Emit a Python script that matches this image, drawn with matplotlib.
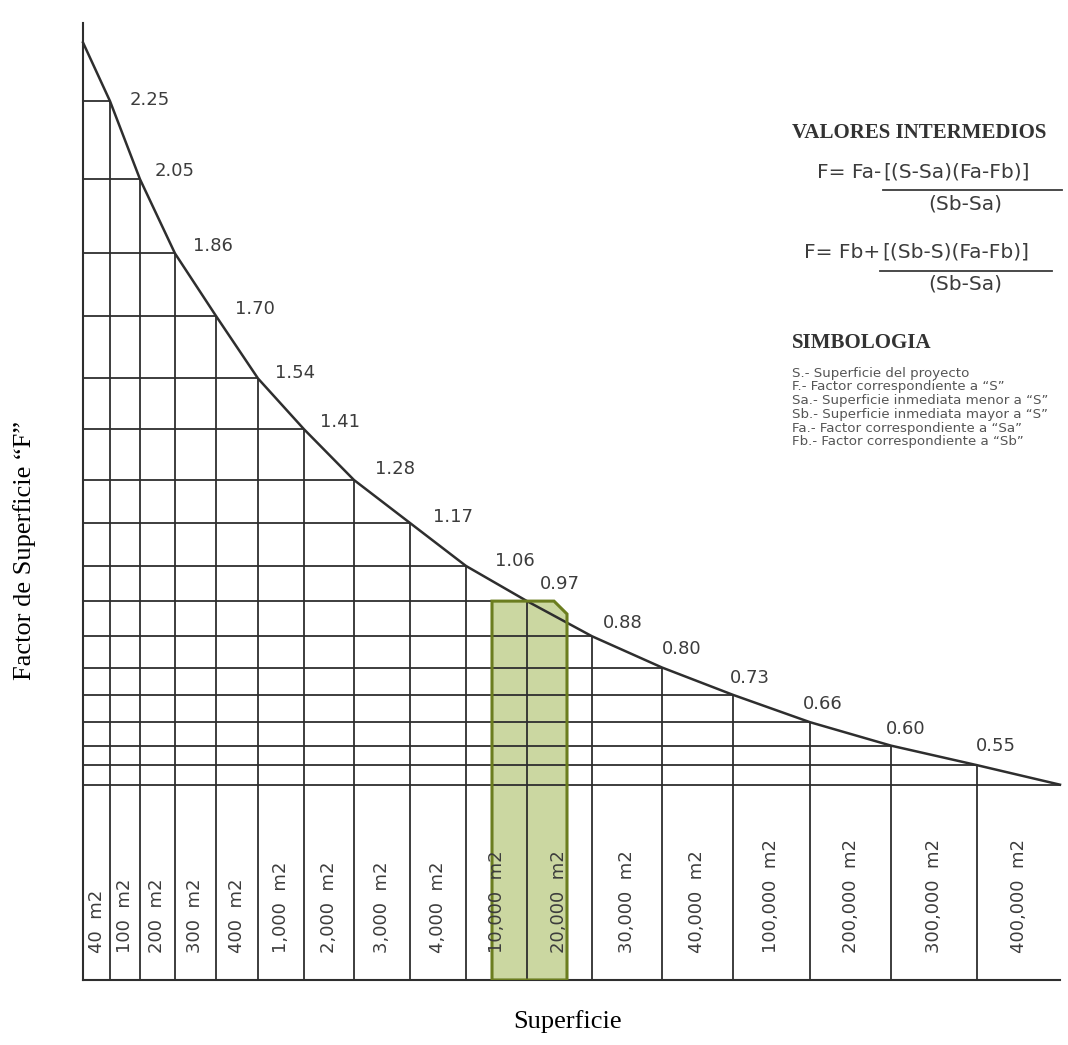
import numpy as np
import matplotlib.pyplot as plt
from matplotlib.patches import Polygon

# column labels (superficie) and the factor read at each column boundary
superficies = ["40", "100", "200", "300", "400", "1,000", "2,000", "3,000", "4,000",
               "10,000", "20,000", "30,000", "40,000", "100,000", "200,000",
               "300,000", "400,000"]
factores = [2.25, 2.05, 1.86, 1.70, 1.54, 1.41, 1.28, 1.17, 1.06,
            0.97, 0.88, 0.80, 0.73, 0.66, 0.60, 0.55]
factor_inicio = 2.40
factor_final = 0.50

# width of each column as drawn on the sheet (px)
col_widths = [27, 30, 35, 41, 42, 46, 50, 56, 56, 61, 65, 70, 71, 77, 81, 86, 83]

# where each factor label sits relative to its point (px right, px up)
label_offsets = [(20, 1), (15, 8), (18, 7), (19, 7), (17, 5), (16, 7), (21, 11),
                 (23, 6), (29, 5), (13, 17), (11, 13), (0, 19), (-3, 17),
                 (-7, 18), (-5, 17), (-1, 19)]

simbologia = [
    "S.- Superficie del proyecto",
    "F.- Factor correspondiente a \u201cS\u201d",
    "Sa.- Superficie inmediata menor a \u201cS\u201d",
    "Sb.- Superficie inmediata mayor a \u201cS\u201d",
    "Fa.- Factor correspondiente a \u201cSa\u201d",
    "Fb.- Factor correspondiente a \u201cSb\u201d",
]

W, H = 1068, 1045
LINE = "#2e2e2e"
TEXT = "#3c3c3c"


def fx(x):
    return x / W


def fy(y):
    return 1 - y / H


fig = plt.figure(figsize=(W / 100, H / 100), dpi=100)
ax = fig.add_axes([fx(83), 1 - 980 / H, 977 / W, 957 / H])
ax.set_xlim(0, sum(col_widths))
ax.set_ylim(0, 2.45)
ax.axis("off")

edges = np.concatenate([[0], np.cumsum(col_widths)])
inner = edges[1:-1]

# highlighted column (around the 0.97 boundary)
hx = inner[9]
green = Polygon([(hx - 35, 0), (hx - 35, factores[9]), (hx + 27, factores[9]),
                 (hx + 40, factores[9] - 0.033), (hx + 40, 0)],
                closed=True, facecolor="#a9bd63", alpha=0.6, edgecolor="none", zorder=1)
ax.add_patch(green)
ax.add_patch(Polygon(green.get_xy(), closed=True, fill=False,
                     edgecolor="#6b7d1f", lw=2.2, zorder=4))

# grid: horizontal lines from the axis to the curve, verticals from curve to base
for x, f in zip(inner, factores):
    ax.plot([0, x], [f, f], color=LINE, lw=1.3, zorder=2, solid_capstyle="butt")
    ax.plot([x, x], [0, f], color=LINE, lw=1.3, zorder=2, solid_capstyle="butt")
ax.plot([0, edges[-1]], [factor_final, factor_final], color=LINE, lw=1.3, zorder=2)
ax.plot([0, edges[-1]], [0, 0], color=LINE, lw=1.5, zorder=2, clip_on=False)
ax.plot([0, 0], [0, 2.45], color=LINE, lw=1.5, zorder=2, clip_on=False)

# factor curve
curve_x = edges
curve_y = [factor_inicio] + factores + [factor_final]
ax.plot(curve_x, curve_y, color=LINE, lw=1.8, zorder=3, clip_on=False)

for x, f, (dx, dy) in zip(inner, factores, label_offsets):
    ax.annotate(f"{f:.2f}", (x, f), xytext=(dx * 0.72, dy * 0.72),
                textcoords="offset points", ha="left", va="center",
                fontsize=13, color=TEXT, family="DejaVu Sans")

# column labels, rotated
for i, s in enumerate(superficies):
    xc = (edges[i] + edges[i + 1]) / 2
    ax.text(xc, 0.07, f"{s}  m2", rotation=90, rotation_mode="anchor",
            ha="left", va="center", fontsize=13, color=TEXT, zorder=5)

# right side notes
fig.text(fx(792), fy(133), "VALORES INTERMEDIOS", family="Liberation Serif",
         weight="bold", fontsize=15, color="#333333", ha="left", va="center")

fig.text(fx(881), fy(172), "F= Fa-", fontsize=14.5, color=TEXT, ha="right", va="center")
fig.text(fx(883), fy(172), "[(S-Sa)(Fa-Fb)]", fontsize=14.5, color=TEXT,
         ha="left", va="center")
fig.add_artist(plt.Line2D([fx(883), fx(1062)], [fy(190), fy(190)], color=TEXT, lw=1.3))
fig.text(fx(965), fy(204), "(Sb-Sa)", fontsize=14.5, color=TEXT, ha="center", va="center")

fig.text(fx(880), fy(252), "F= Fb+", fontsize=14.5, color=TEXT, ha="right", va="center")
fig.text(fx(882), fy(252), "[(Sb-S)(Fa-Fb)]", fontsize=14.5, color=TEXT,
         ha="left", va="center")
fig.add_artist(plt.Line2D([fx(880), fx(1052)], [fy(271), fy(271)], color=TEXT, lw=1.3))
fig.text(fx(965), fy(284), "(Sb-Sa)", fontsize=14.5, color=TEXT, ha="center", va="center")

fig.text(fx(792), fy(343), "SIMBOLOGIA", family="Liberation Serif",
         weight="bold", fontsize=15, color="#333333", ha="left", va="center")
for k, line in enumerate(simbologia):
    fig.text(fx(792), fy(373 + 13.8 * k), line, fontsize=9.6, color="#555555",
             ha="left", va="center")

# axis titles
fig.text(fx(25), fy(550), "Factor de Superficie \u201cF\u201d", family="Liberation Serif",
         fontsize=19, rotation=90, ha="center", va="center", color="black")
fig.text(fx(568), fy(1022), "Superficie", family="Liberation Serif",
         fontsize=19, ha="center", va="center", color="black")

fig.savefig("out.png", dpi=100, facecolor="white")
